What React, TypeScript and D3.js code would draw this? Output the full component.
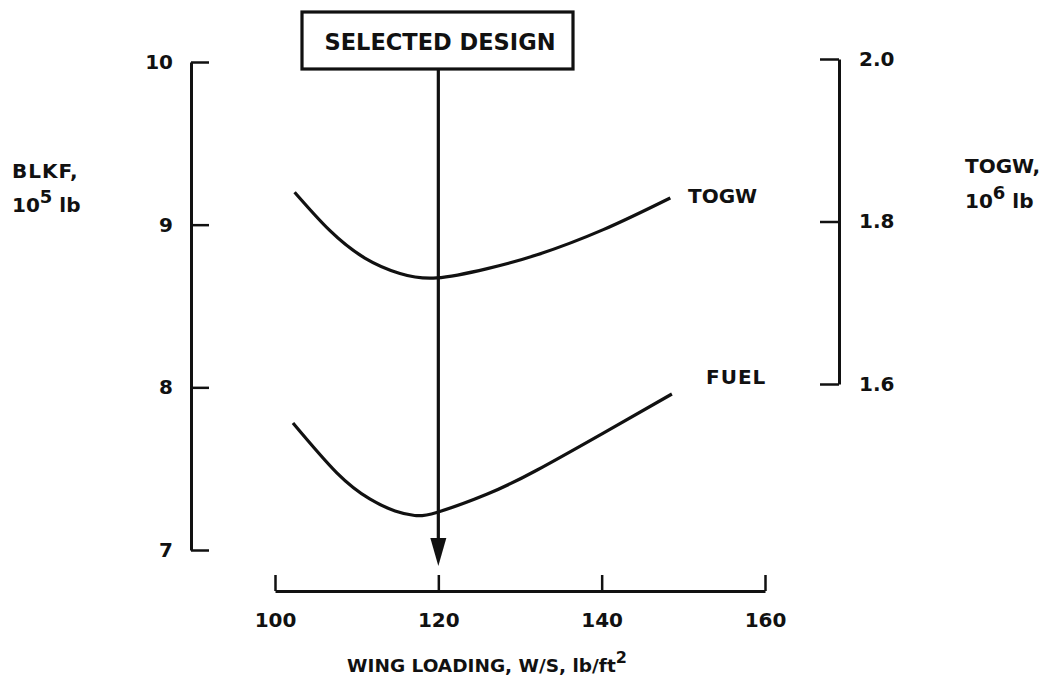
import * as d3 from "d3";
import { useEffect, useRef } from "react";

// wing loading, lb/ft^2
const togwWS = [102.4, 106.7, 111.0, 115.3, 119.8, 126.0, 132.1, 140.2, 148.4];
// TOGW, 10^6 lb (right axis)
const togwVals = [1.836, 1.789, 1.755, 1.736, 1.7305, 1.742, 1.759, 1.79, 1.829];

const fuelWS = [102.2, 107.6, 111.6, 114.7, 117.1, 119.8, 126.0, 132.1, 140.2, 148.6];
// BLKF, 10^5 lb (left axis)
const fuelVals = [7.781, 7.473, 7.314, 7.24, 7.212, 7.231, 7.344, 7.492, 7.719, 7.959];

const xTicks = [100, 120, 140, 160];
const leftTicks = [7, 8, 9, 10];
const rightTicks = [1.6, 1.8, 2.0];
const selectedWS = 120;

const FONT = "'DejaVu Sans', 'Liberation Sans', Arial, sans-serif";

const App = () => {
  const ref = useRef<SVGSVGElement>(null);

  useEffect(() => {
    const svg = d3.select(ref.current);
    svg.selectAll("*").remove();

    const x = d3.scaleLinear().domain([100, 160]).range([275, 765]);
    const yL = d3.scaleLinear().domain([7, 10]).range([550, 62]);
    const yR = d3.scaleLinear().domain([1.6, 2.0]).range([384, 59]);

    const styleAxis = (g: any) => {
      g.select(".domain").attr("stroke", "#111").attr("stroke-width", 3);
      g.selectAll(".tick line").attr("stroke", "#111").attr("stroke-width", 2.5);
      g.selectAll(".tick text")
        .attr("fill", "#111")
        .style("font-family", FONT)
        .style("font-weight", "bold")
        .style("font-size", "20px");
    };

    // left axis (BLKF)
    svg
      .append("g")
      .attr("transform", "translate(191,0)")
      .call(
        d3
          .axisLeft(yL)
          .tickValues(leftTicks)
          .tickSizeInner(-18)
          .tickSizeOuter(0)
          .tickPadding(18)
          .tickFormat(d3.format("d") as any)
      )
      .call(styleAxis);

    // right axis (TOGW)
    svg
      .append("g")
      .attr("transform", "translate(839,0)")
      .call(
        d3
          .axisRight(yR)
          .tickValues(rightTicks)
          .tickSizeInner(-19)
          .tickSizeOuter(0)
          .tickPadding(20)
          .tickFormat(d3.format(".1f") as any)
      )
      .call(styleAxis);

    // bottom axis
    svg
      .append("g")
      .attr("transform", "translate(0,591)")
      .call(
        d3
          .axisBottom(x)
          .tickValues(xTicks)
          .tickSizeInner(-16)
          .tickSizeOuter(0)
          .tickPadding(22)
          .tickFormat(d3.format("d") as any)
      )
      .call(styleAxis);

    const line = d3.line<[number, number]>().curve(d3.curveNatural);

    svg
      .append("path")
      .attr("d", line(togwWS.map((w, i) => [x(w), yR(togwVals[i])])))
      .attr("fill", "none")
      .attr("stroke", "#111")
      .attr("stroke-width", 3.2);

    svg
      .append("path")
      .attr("d", line(fuelWS.map((w, i) => [x(w), yL(fuelVals[i])])))
      .attr("fill", "none")
      .attr("stroke", "#111")
      .attr("stroke-width", 3.2);

    // selected design box + arrow
    const ax = x(selectedWS);
    svg
      .append("line")
      .attr("x1", ax)
      .attr("x2", ax)
      .attr("y1", 68)
      .attr("y2", 545)
      .attr("stroke", "#111")
      .attr("stroke-width", 3.2);
    svg
      .append("path")
      .attr("d", `M${ax - 8},538L${ax + 8},538L${ax},566Z`)
      .attr("fill", "#111");

    svg
      .append("rect")
      .attr("x", 302)
      .attr("y", 12)
      .attr("width", 271)
      .attr("height", 57)
      .attr("fill", "#fff")
      .attr("stroke", "#111")
      .attr("stroke-width", 3.2);

    const text = (tx: number, ty: number, s: string, anchor = "start", size = 20) =>
      svg
        .append("text")
        .attr("x", tx)
        .attr("y", ty)
        .attr("text-anchor", anchor)
        .attr("fill", "#111")
        .style("font-family", FONT)
        .style("font-weight", "bold")
        .style("font-size", `${size}px`)
        .text(s);

    text(440, 50, "SELECTED DESIGN", "middle", 22.5);

    text(688, 203, "TOGW");
    text(706, 384, "FUEL").attr("letter-spacing", "1px");

    text(12, 178, "BLKF,").attr("letter-spacing", "1px");
    const l2 = text(12, 212, "10");
    l2.append("tspan").attr("dy", -9).style("font-size", "18px").text("5");
    l2.append("tspan").attr("dy", 9).text(" lb");

    text(965, 173, "TOGW,");
    const r2 = text(965, 208, "10");
    r2.append("tspan").attr("dy", -9).style("font-size", "18px").text("6");
    r2.append("tspan").attr("dy", 9).text(" lb");

    const xl = text(487, 672, "WING LOADING, W/S, lb/ft", "middle", 18.5);
    xl.append("tspan").attr("dy", -9).style("font-size", "16px").text("2");
  }, []);

  return (
    <svg
      ref={ref}
      width={1047}
      height={677}
      style={{ position: "absolute", left: 0, top: 0, background: "#fff" }}
    />
  );
};

export default App;
